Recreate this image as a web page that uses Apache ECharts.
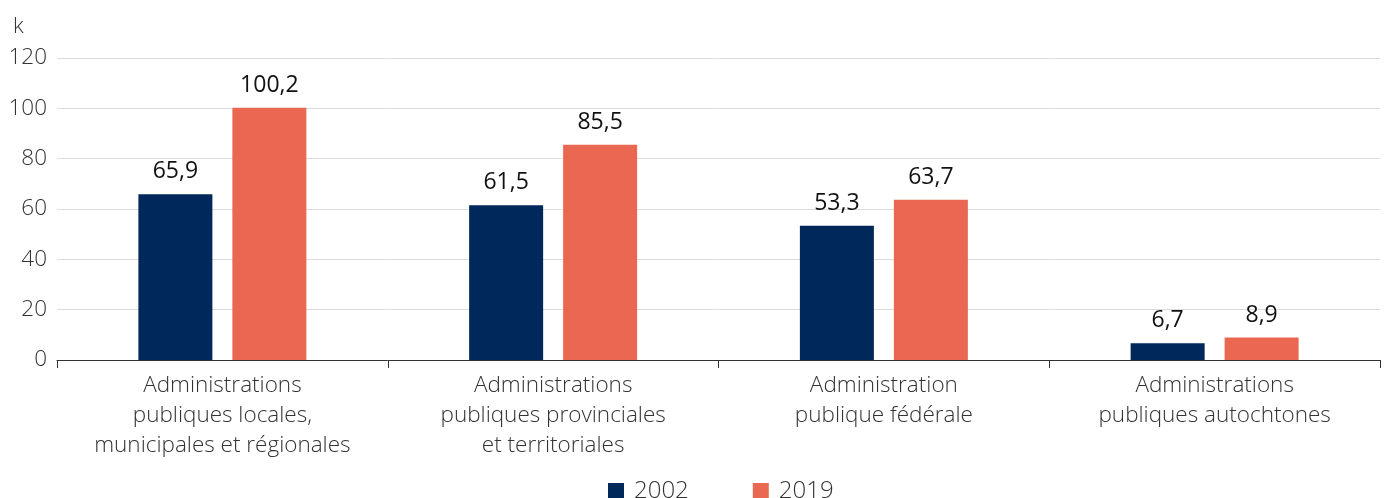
<!DOCTYPE html>
<html>
<head>
<meta charset="utf-8">
<script src="https://cdn.jsdelivr.net/npm/echarts@6/dist/echarts.min.js"></script>
<style>
  html, body { margin: 0; padding: 0; background: #fff; }
  #main { width: 1385px; height: 498px; }
</style>
</head>
<body>
<div id="main"></div>
<script>
var categories = [
  "Administrations\npubliques locales,\nmunicipales et régionales",
  "Administrations\npubliques provinciales\net territoriales",
  "Administration\npublique fédérale",
  "Administrations\npubliques autochtones"
];
var values2002 = [65.9, 61.5, 53.3, 6.7];
var values2019 = [100.2, 85.5, 63.7, 8.9];
var seriesNames = ["2002", "2019"];

var font = "'Open Sans', sans-serif";
var myChart = echarts.init(document.getElementById("main"));

function lbl(p) {
  return String(p.value).replace(".", ",");
}

myChart.setOption({
  animation: false,
  textStyle: { fontFamily: font },
  color: ["#00285a", "#ea6852"],
  grid: { left: 57, right: 5, top: 58, bottom: 138 },
  legend: {
    top: 474,
    left: 603,
    itemWidth: 16,
    itemHeight: 16,
    itemGap: 64,
    icon: "rect",
    textStyle: { fontSize: 24, color: "#333", fontWeight: 300, fontFamily: font, padding: [0, 0, 0, 5] },
    data: seriesNames
  },
  xAxis: {
    type: "category",
    data: categories,
    axisLine: { lineStyle: { color: "#333", width: 1 } },
    axisTick: { show: true, length: 8, lineStyle: { color: "#333" } },
    axisLabel: {
      interval: 0,
      margin: 11,
      fontSize: 22.5,
      lineHeight: 30,
      color: "#333",
      fontWeight: 300,
      fontFamily: font
    }
  },
  yAxis: {
    type: "value",
    min: 0,
    max: 120,
    interval: 20,
    name: "k",
    nameLocation: "end",
    nameGap: 20,
    nameTextStyle: { fontSize: 22, color: "#333", fontWeight: 300, align: "left", padding: [0, 0, 0, -44] },
    axisLine: { show: false },
    axisTick: { show: false },
    splitLine: { lineStyle: { color: "#dcdcdc", width: 1 } },
    axisLabel: { fontSize: 22.5, color: "#333", fontWeight: 300, margin: 10, fontFamily: font }
  },
  series: [
    {
      name: seriesNames[0],
      type: "bar",
      data: values2002,
      barWidth: 74,
      barGap: "27%",
      label: { show: true, position: "top", distance: 11, fontSize: 23, color: "#111", formatter: lbl, fontFamily: font }
    },
    {
      name: seriesNames[1],
      type: "bar",
      data: values2019,
      barWidth: 74,
      barGap: "27%",
      label: { show: true, position: "top", distance: 11, fontSize: 23, color: "#111", formatter: lbl, fontFamily: font }
    }
  ]
});
</script>
</body>
</html>
